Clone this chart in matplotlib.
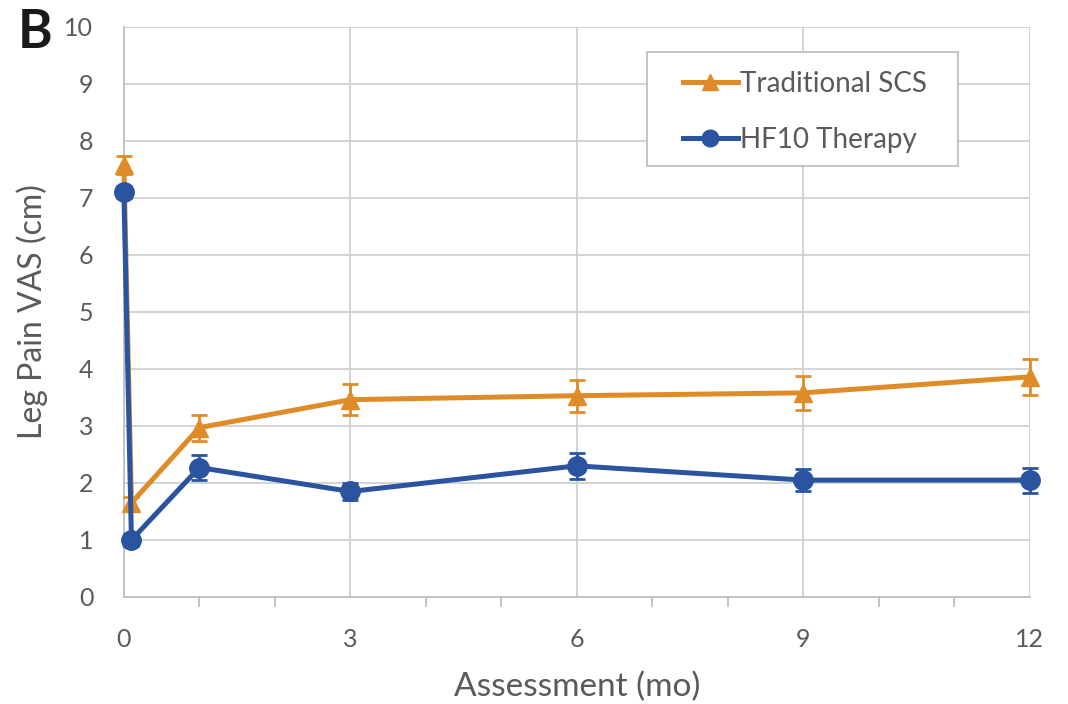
import matplotlib
matplotlib.use("Agg")
import matplotlib.pyplot as plt
from matplotlib.ticker import MultipleLocator
from matplotlib.lines import Line2D
from matplotlib.patches import Rectangle

# Follow-up assessment times (months); 0.1 is the ~2-week post-implant visit
months = [0, 0.1, 1, 3, 6, 9, 12]

trad_scs = [7.58, 1.65, 2.97, 3.46, 3.53, 3.58, 3.86]
trad_scs_err = [0.16, 0.10, 0.23, 0.27, 0.28, 0.30, 0.32]

hf10 = [7.10, 1.00, 2.27, 1.85, 2.30, 2.05, 2.05]
hf10_err = [0.10, 0.10, 0.22, 0.15, 0.23, 0.20, 0.22]

x_ticks = [0, 3, 6, 9, 12]
y_ticks = list(range(0, 11))

ORANGE = "#DF8C28"
BLUE = "#2A549F"
GRID = "#D0D0D0"
TEXT = "#5A5A5A"

plt.rcParams["font.family"] = ["Lato", "DejaVu Sans"]

fig = plt.figure(figsize=(10.68, 7.04), dpi=100)
ax = fig.add_axes([0.116, 0.152, 0.848, 0.81])

ax.errorbar(months, trad_scs, yerr=trad_scs_err, color=ORANGE, lw=3.6,
            marker="^", ms=13, capsize=6, capthick=2, elinewidth=2,
            clip_on=False, zorder=3)
ax.errorbar(months, hf10, yerr=hf10_err, color=BLUE, lw=3.6,
            marker="o", ms=14, capsize=6, capthick=2, elinewidth=2,
            clip_on=False, zorder=4)

ax.set_xlim(0, 12)
ax.set_ylim(0, 10)
ax.set_xticks(x_ticks)
ax.xaxis.set_minor_locator(MultipleLocator(1))
ax.set_yticks(y_ticks)

ax.grid(True, which="major", color=GRID, lw=1.3)
ax.set_axisbelow(True)
for side in ["top", "right"]:
    ax.spines[side].set_visible(False)
for side in ["left", "bottom"]:
    ax.spines[side].set_color("#BFBFBF")
    ax.spines[side].set_linewidth(1.3)

ax.tick_params(axis="y", length=0, pad=22, labelsize=18, labelcolor=TEXT)
ax.tick_params(axis="x", which="major", length=0, pad=22, labelsize=18,
               labelcolor=TEXT)
ax.tick_params(axis="x", which="minor", length=7, width=1.3, color="#BFBFBF")

ax.set_xlabel("Assessment (mo)", fontsize=24, color=TEXT, labelpad=15)
ax.set_ylabel("Leg Pain VAS (cm)", fontsize=23, color=TEXT, labelpad=12)

# Legend box drawn separately so its padding can be set freely
box = Rectangle((0.578, 0.756), 0.343, 0.200, transform=ax.transAxes,
                facecolor="white", edgecolor="#BFBFBF", lw=1.3, zorder=5)
ax.add_patch(box)

handles = [
    Line2D([], [], color=ORANGE, lw=3.6, marker="^", ms=11),
    Line2D([], [], color=BLUE, lw=3.6, marker="o", ms=12),
]
leg = ax.legend(handles, ["Traditional SCS", "HF10 Therapy"],
                loc="upper left", bbox_to_anchor=(0.617, 0.923), fontsize=20,
                frameon=False, borderpad=0, labelspacing=1.1,
                handlelength=2.0, handletextpad=0.05, borderaxespad=0)
leg.set_zorder(6)
for t in leg.get_texts():
    t.set_color(TEXT)

fig.text(0.017, 0.988, "B", fontsize=38, fontweight="bold", color="#1A1A1A",
         ha="left", va="top")

fig.savefig("out.png", dpi=100, facecolor="white")
